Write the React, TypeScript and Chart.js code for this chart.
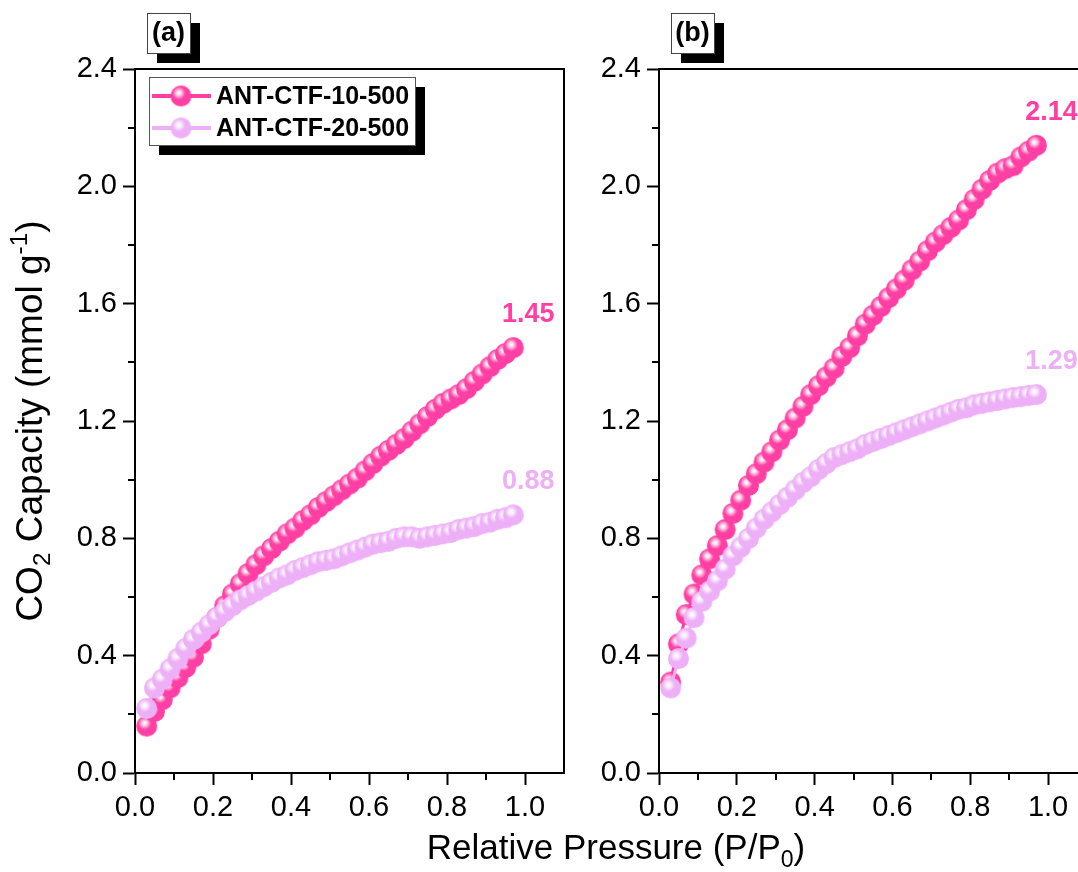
import React, { useEffect, useRef } from 'react';
import { Chart, registerables } from 'chart.js';

Chart.register(...registerables);

// ---------------- data ----------------
const pressure = [
  0.03, 0.05, 0.07, 0.09, 0.11, 0.13, 0.15, 0.17, 0.19, 0.21, 0.23, 0.25,
  0.27, 0.29, 0.31, 0.33, 0.35, 0.37, 0.39, 0.41, 0.43, 0.45, 0.47, 0.49,
  0.51, 0.53, 0.55, 0.57, 0.59, 0.61, 0.63, 0.65, 0.67, 0.69, 0.71, 0.73,
  0.75, 0.77, 0.79, 0.81, 0.83, 0.85, 0.87, 0.89, 0.91, 0.93, 0.95, 0.97,
];

const ctf10PanelA = [
  0.16, 0.21, 0.25, 0.29, 0.325, 0.36, 0.395, 0.44, 0.49, 0.53, 0.57, 0.61,
  0.645, 0.68, 0.71, 0.74, 0.765, 0.79, 0.815, 0.835, 0.86, 0.88, 0.905, 0.925,
  0.945, 0.965, 0.985, 1.005, 1.03, 1.055, 1.08, 1.1, 1.12, 1.14, 1.165, 1.19,
  1.215, 1.24, 1.26, 1.275, 1.29, 1.31, 1.335, 1.36, 1.385, 1.41, 1.43, 1.45,
];

const ctf20PanelA = [
  0.22, 0.29, 0.32, 0.355, 0.39, 0.425, 0.455, 0.48, 0.505, 0.53, 0.55, 0.57,
  0.59, 0.605, 0.62, 0.635, 0.65, 0.665, 0.675, 0.69, 0.7, 0.71, 0.72, 0.725,
  0.73, 0.74, 0.75, 0.76, 0.77, 0.78, 0.785, 0.79, 0.8, 0.805, 0.805, 0.8,
  0.805, 0.81, 0.815, 0.82, 0.83, 0.835, 0.84, 0.85, 0.855, 0.865, 0.87, 0.88,
];

const ctf10PanelB = [
  0.31, 0.44, 0.54, 0.61, 0.675, 0.73, 0.775, 0.83, 0.885, 0.93, 0.98, 1.02,
  1.06, 1.095, 1.135, 1.17, 1.21, 1.25, 1.29, 1.32, 1.35, 1.38, 1.42, 1.45,
  1.49, 1.53, 1.56, 1.59, 1.62, 1.65, 1.68, 1.715, 1.745, 1.78, 1.81, 1.835,
  1.86, 1.885, 1.92, 1.955, 1.99, 2.02, 2.045, 2.06, 2.07, 2.1, 2.12, 2.14,
];

const ctf20PanelB = [
  0.29, 0.39, 0.46, 0.53, 0.585, 0.62, 0.655, 0.695, 0.74, 0.77, 0.8, 0.835,
  0.865, 0.89, 0.915, 0.94, 0.965, 0.99, 1.01, 1.035, 1.055, 1.075, 1.085, 1.095,
  1.105, 1.12, 1.13, 1.14, 1.15, 1.16, 1.17, 1.18, 1.19, 1.2, 1.21, 1.22,
  1.23, 1.24, 1.245, 1.255, 1.26, 1.265, 1.27, 1.275, 1.28, 1.283, 1.287, 1.29,
];

const seriesNames = ['ANT-CTF-10-500', 'ANT-CTF-20-500'];
const panelLabels = ['(a)', '(b)'];
const xMinorTicks = [0.1, 0.3, 0.5, 0.7, 0.9];
const yMinorTicks = [0.2, 0.6, 1.0, 1.4, 1.8, 2.2];
const xAxisTitle = ['Relative Pressure (P/P', '0', ')'];
const yAxisTitle = ['CO', '2', ' Capacity (mmol g', '-1', ')'];

// ---------------- styles ----------------
const FONT = '"Liberation Sans", Arial, Helvetica, sans-serif';
const PINK = '#ff3fa3';
const LILAC = '#edb0f7';
const TICK_FONT = 29;
const X_TITLE_FONT = 35;
const Y_TITLE_FONT = 37;

function makeSphere(color: string, r: number): HTMLCanvasElement {
  const s = Math.ceil(r * 2 + 2);
  const c = document.createElement('canvas');
  c.width = s;
  c.height = s;
  const g = c.getContext('2d') as CanvasRenderingContext2D;
  const cx = s / 2;
  const cy = s / 2;
  g.beginPath();
  g.arc(cx, cy, r, 0, Math.PI * 2);
  g.fillStyle = color;
  g.fill();
  const hx = cx - r * 0.2;
  const hy = cy - r * 0.28;
  const grad = g.createRadialGradient(hx, hy, 0, hx, hy, r * 0.62);
  grad.addColorStop(0, 'rgba(255,255,255,1)');
  grad.addColorStop(0.3, 'rgba(255,255,255,0.85)');
  grad.addColorStop(1, 'rgba(255,255,255,0)');
  g.beginPath();
  g.arc(cx, cy, r, 0, Math.PI * 2);
  g.fillStyle = grad;
  g.fill();
  return c;
}

type Part = { t: string; k: 'n' | 'sub' | 'sup' };

function drawRich(ctx: CanvasRenderingContext2D, parts: Part[], cx: number, baseline: number, size: number) {
  const items = parts.map((p) => {
    const fs = p.k === 'n' ? size : size * 0.66;
    ctx.font = `${fs}px ${FONT}`;
    const w = ctx.measureText(p.t).width;
    const dy = p.k === 'sub' ? size * 0.22 : p.k === 'sup' ? -size * 0.4 : 0;
    return { ...p, fs, w, dy };
  });
  const total = items.reduce((s, i) => s + i.w, 0);
  let x = cx - total / 2;
  ctx.textAlign = 'left';
  ctx.textBaseline = 'alphabetic';
  for (const it of items) {
    ctx.font = `${it.fs}px ${FONT}`;
    ctx.fillText(it.t, x, baseline + it.dy);
    x += it.w;
  }
}

const decorPlugin = {
  id: 'decor',
  afterDraw(chart: any, _args: any, opts: any) {
    const { ctx, chartArea: a, scales } = chart;
    const xs = scales.x;
    const ys = scales.y;
    ctx.save();
    ctx.strokeStyle = '#000';
    ctx.fillStyle = '#000';
    ctx.lineWidth = 2;
    // frame top & right
    ctx.beginPath();
    ctx.moveTo(a.left, a.top);
    ctx.lineTo(a.right, a.top);
    ctx.lineTo(a.right, a.bottom);
    ctx.stroke();
    // minor ticks
    ctx.beginPath();
    for (const v of xMinorTicks) {
      const px = Math.round(xs.getPixelForValue(v));
      ctx.moveTo(px, a.bottom);
      ctx.lineTo(px, a.bottom + 7);
    }
    for (const v of yMinorTicks) {
      const py = Math.round(ys.getPixelForValue(v));
      ctx.moveTo(a.left, py);
      ctx.lineTo(a.left - 7, py);
    }
    ctx.stroke();

    // end-value annotations
    chart.data.datasets.forEach((ds: any, i: number) => {
      const meta = chart.getDatasetMeta(i);
      const last = meta.data[meta.data.length - 1];
      const val = ds.data[ds.data.length - 1].y;
      ctx.fillStyle = ds.borderColor;
      ctx.font = `bold 27px ${FONT}`;
      ctx.textAlign = 'center';
      ctx.textBaseline = 'middle';
      ctx.fillText(val.toFixed(2), last.x + 15, last.y - 33);
    });

    // panel label
    const lx = a.left + 12;
    const ly = 13;
    const lw = 43;
    const lh = 40;
    ctx.fillStyle = '#000';
    ctx.fillRect(lx + 10, ly + 10, lw, lh);
    ctx.fillStyle = '#fff';
    ctx.fillRect(lx, ly, lw, lh);
    ctx.lineWidth = 1;
    ctx.strokeStyle = '#444';
    ctx.strokeRect(lx + 0.5, ly + 0.5, lw, lh);
    ctx.fillStyle = '#000';
    ctx.font = `bold 27px ${FONT}`;
    ctx.textAlign = 'center';
    ctx.textBaseline = 'middle';
    ctx.fillText(opts.label, lx + lw / 2, ly + lh / 2 + 1);

    // legend
    if (opts.legend) {
      const bx = a.left + 14;
      const by = a.top + 8;
      const bw = 266;
      const bh = 68;
      ctx.fillStyle = '#000';
      ctx.fillRect(bx + 10, by + 10, bw, bh);
      ctx.fillStyle = '#fff';
      ctx.fillRect(bx, by, bw, bh);
      ctx.strokeStyle = '#555';
      ctx.lineWidth = 1;
      ctx.strokeRect(bx + 0.5, by + 0.5, bw, bh);
      const rows = [
        { name: seriesNames[0], color: PINK, sprite: opts.sprites[0] },
        { name: seriesNames[1], color: LILAC, sprite: opts.sprites[1] },
      ];
      rows.forEach((r, i) => {
        const cy = by + 19 + i * 32;
        ctx.strokeStyle = r.color;
        ctx.lineWidth = 4;
        ctx.beginPath();
        ctx.moveTo(bx + 3, cy);
        ctx.lineTo(bx + 62, cy);
        ctx.stroke();
        const sp = r.sprite as HTMLCanvasElement;
        ctx.drawImage(sp, bx + 32 - sp.width / 2, cy - sp.height / 2);
        ctx.fillStyle = '#000';
        ctx.font = `bold 25px ${FONT}`;
        ctx.textAlign = 'left';
        ctx.textBaseline = 'middle';
        ctx.fillText(r.name, bx + 67, cy + 1);
      });
    }

    // axis titles
    ctx.fillStyle = '#000';
    if (opts.yTitle) {
      ctx.save();
      const cyc = (a.top + a.bottom) / 2;
      ctx.translate(42, cyc);
      ctx.rotate(-Math.PI / 2);
      drawRich(
        ctx,
        [
          { t: yAxisTitle[0], k: 'n' },
          { t: yAxisTitle[1], k: 'sub' },
          { t: yAxisTitle[2], k: 'n' },
          { t: yAxisTitle[3], k: 'sup' },
          { t: yAxisTitle[4], k: 'n' },
        ],
        0,
        0,
        Y_TITLE_FONT
      );
      ctx.restore();
    }
    if (opts.xTitle) {
      drawRich(
        ctx,
        [
          { t: xAxisTitle[0], k: 'n' },
          { t: xAxisTitle[1], k: 'sub' },
          { t: xAxisTitle[2], k: 'n' },
        ],
        616,
        859,
        X_TITLE_FONT
      );
    }
    ctx.restore();
  },
};

function buildChart(
  canvas: HTMLCanvasElement,
  pinkVals: number[],
  lilacVals: number[],
  label: string,
  padding: { left: number; right: number; top: number; bottom: number },
  flags: { legend: boolean; yTitle: boolean; xTitle: boolean }
) {
  const pinkSprite = makeSphere(PINK, 10.5);
  const lilacSprite = makeSphere(LILAC, 10.5);
  const toPts = (vals: number[]) => pressure.map((x, i) => ({ x, y: vals[i] }));
  const tickFont = { family: FONT, size: TICK_FONT };
  return new Chart(canvas, {
    type: 'scatter',
    data: {
      datasets: [
        {
          label: seriesNames[0],
          data: toPts(pinkVals),
          showLine: true,
          borderColor: PINK,
          backgroundColor: PINK,
          borderWidth: 3,
          pointStyle: pinkSprite as any,
          pointRadius: 10,
          order: 1,
        },
        {
          label: seriesNames[1],
          data: toPts(lilacVals),
          showLine: true,
          borderColor: LILAC,
          backgroundColor: LILAC,
          borderWidth: 3,
          pointStyle: lilacSprite as any,
          pointRadius: 10,
          order: 0,
        },
      ],
    },
    options: {
      responsive: false,
      animation: false,
      events: [],
      layout: { padding },
      scales: {
        x: {
          type: 'linear',
          min: 0,
          max: 1.1,
          afterFit: (s: any) => {
            s.height = 60;
          },
          ticks: {
            stepSize: 0.2,
            includeBounds: false,
            autoSkip: false,
            maxRotation: 0,
            padding: 6,
            color: '#000',
            font: tickFont,
            callback: (v: any) => Number(v).toFixed(1),
          },
          grid: {
            display: true,
            drawOnChartArea: false,
            drawTicks: true,
            tickLength: 12,
            tickWidth: 2,
            tickColor: '#000',
          },
          border: { display: true, color: '#000', width: 2 },
        },
        y: {
          type: 'linear',
          min: 0,
          max: 2.4,
          afterFit: (s: any) => {
            s.width = 60;
          },
          ticks: {
            stepSize: 0.4,
            autoSkip: false,
            padding: 6,
            color: '#000',
            font: tickFont,
            callback: (v: any) => Number(v).toFixed(1),
          },
          grid: {
            display: true,
            drawOnChartArea: false,
            drawTicks: true,
            tickLength: 12,
            tickWidth: 2,
            tickColor: '#000',
          },
          border: { display: true, color: '#000', width: 2 },
        },
      },
      plugins: {
        legend: { display: false },
        tooltip: { enabled: false },
        decor: { label, sprites: [pinkSprite, lilacSprite], ...flags },
      } as any,
    },
    plugins: [decorPlugin],
  });
}

export default function App() {
  const refA = useRef<HTMLCanvasElement>(null);
  const refB = useRef<HTMLCanvasElement>(null);

  useEffect(() => {
    const chartA = buildChart(
      refA.current as HTMLCanvasElement,
      ctf10PanelA,
      ctf20PanelA,
      panelLabels[0],
      { left: 75, right: 514, top: 69, bottom: 39 },
      { legend: true, yTitle: true, xTitle: true }
    );
    const chartB = buildChart(
      refB.current as HTMLCanvasElement,
      ctf10PanelB,
      ctf20PanelB,
      panelLabels[1],
      { left: 599, right: 13, top: 69, bottom: 39 },
      { legend: false, yTitle: false, xTitle: false }
    );
    return () => {
      chartA.destroy();
      chartB.destroy();
    };
  }, []);

  return (
    <div
      style={{
        position: 'fixed',
        left: 0,
        top: 0,
        width: 1078,
        height: 872,
        overflow: 'hidden',
        background: '#fff',
      }}
    >
      <canvas ref={refA} width={1078} height={872} style={{ position: 'absolute', left: 0, top: 0 }} />
      <canvas ref={refB} width={1100} height={872} style={{ position: 'absolute', left: 0, top: 0 }} />
    </div>
  );
}
